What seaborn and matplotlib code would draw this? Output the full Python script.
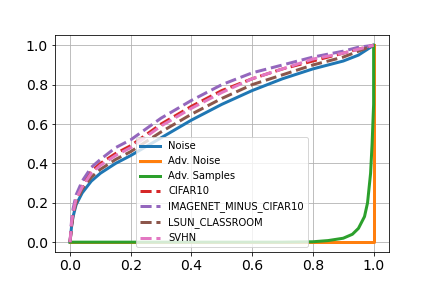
import numpy as np
import pandas as pd
import matplotlib
matplotlib.use('Agg')
import matplotlib.pyplot as plt
import seaborn as sns

# false positive rate grid shared by the OOD curves
fpr = [0, 0.005, 0.01, 0.02, 0.04, 0.07, 0.1, 0.15, 0.2, 0.3, 0.4,
       0.5, 0.6, 0.7, 0.8, 0.9, 0.95, 1.0]

tpr_noise = [0, 0.08, 0.13, 0.19, 0.25, 0.31, 0.35, 0.40, 0.44, 0.53, 0.62,
             0.70, 0.77, 0.83, 0.88, 0.92, 0.95, 1.0]
tpr_cifar = [0, 0.09, 0.15, 0.22, 0.29, 0.36, 0.40, 0.45, 0.49, 0.60, 0.69,
             0.77, 0.83, 0.88, 0.92, 0.96, 0.98, 1.0]
tpr_imagenet = [0, 0.11, 0.17, 0.24, 0.31, 0.38, 0.42, 0.48, 0.52, 0.63, 0.72,
                0.80, 0.86, 0.90, 0.94, 0.97, 0.99, 1.0]
tpr_lsun = [0, 0.08, 0.14, 0.20, 0.27, 0.33, 0.37, 0.42, 0.46, 0.56, 0.65,
            0.73, 0.80, 0.85, 0.90, 0.94, 0.97, 1.0]
tpr_svhn = [0, 0.10, 0.15, 0.22, 0.28, 0.35, 0.39, 0.44, 0.48, 0.59, 0.68,
            0.76, 0.83, 0.88, 0.93, 0.96, 0.98, 1.0]

fpr_adv_noise = [0, 0.5, 1.0, 1.0]
tpr_adv_noise = [0, 0, 0, 1.0]

fpr_adv = [0, 0.5, 0.7, 0.8, 0.85, 0.9, 0.93, 0.95, 0.97, 0.98, 0.99, 0.995, 1.0, 1.0]
tpr_adv = [0, 0, 0, 0.002, 0.008, 0.02, 0.04, 0.07, 0.13, 0.2, 0.35, 0.5, 0.7, 1.0]

series = [
    ("Noise", fpr, tpr_noise, "tab:blue", "-"),
    ("Adv. Noise", fpr_adv_noise, tpr_adv_noise, "tab:orange", "-"),
    ("Adv. Samples", fpr_adv, tpr_adv, "tab:green", "-"),
    ("CIFAR10", fpr, tpr_cifar, "tab:red", "--"),
    ("IMAGENET_MINUS_CIFAR10", fpr, tpr_imagenet, "tab:purple", "--"),
    ("LSUN_CLASSROOM", fpr, tpr_lsun, "tab:brown", "--"),
    ("SVHN", fpr, tpr_svhn, "tab:pink", "--"),
]

fig, ax = plt.subplots(figsize=(6, 4), dpi=72)
fig.subplots_adjust(left=0.127, right=0.9, bottom=0.125, top=0.877)
for name, x, y, color, ls in series:
    df = pd.DataFrame({"fpr": x, "tpr": y})
    sns.lineplot(data=df, x="fpr", y="tpr", ax=ax, color=color, linestyle=ls,
                 linewidth=3, label=name, estimator=None, sort=False)

ax.grid(True, color='#b0b0b0', linewidth=0.8)
ax.set_xlabel("")
ax.set_ylabel("")
ax.tick_params(labelsize=14)
ax.legend(loc='lower center', fontsize=10)
fig.savefig("out.png", dpi=72)
